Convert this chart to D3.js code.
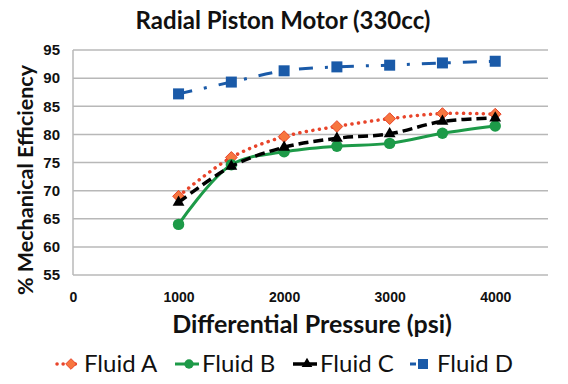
<!DOCTYPE html>
<html>
<head>
<meta charset="utf-8">
<script src="https://cdn.jsdelivr.net/npm/d3@7"></script>
<style>
  body { margin: 0; background: #fff; }
  svg { display: block; font-family: Lato, "Open Sans", sans-serif; }
</style>
</head>
<body>
<svg width="568" height="384"></svg>
<script>
var pressure = [1000, 1500, 2000, 2500, 3000, 3500, 4000];
var fluidA = [69.0, 75.9, 79.6, 81.4, 82.8, 83.7, 83.6];
var fluidB = [64.0, 74.6, 76.9, 77.9, 78.4, 80.2, 81.5];
var fluidC = [67.9, 74.3, 77.7, 79.3, 80.1, 82.3, 82.9];
var fluidD = [87.2, 89.3, 91.3, 92.0, 92.3, 92.7, 93.0];
var xTicks = [0, 1000, 2000, 3000, 4000];
var yTicks = [55, 60, 65, 70, 75, 80, 85, 90, 95];

var svg = d3.select("svg"),
    margin = {top: 50, right: 20, bottom: 109, left: 73},
    width = +svg.attr("width") - margin.left - margin.right,
    height = +svg.attr("height") - margin.top - margin.bottom;

var x = d3.scaleLinear().domain([0, 4500]).range([0, width]);
var y = d3.scaleLinear().domain([55, 95]).range([height, 0]);

var series = [
  {name: "Fluid A", values: fluidA, color: "#e8442a", fill: "#f7763f", dash: "0.1,6.5", cap: "round", width: 3.5, marker: "diamond"},
  {name: "Fluid B", values: fluidB, color: "#1d9a48", fill: "#1d9a48", dash: null, cap: "butt", width: 3, marker: "circle"},
  {name: "Fluid C", values: fluidC, color: "#000", fill: "#000", dash: "10,5", cap: "butt", width: 3.5, marker: "triangle"},
  {name: "Fluid D", values: fluidD, color: "#1a5aa8", fill: "#1a5aa8", dash: "14,12,3,12", cap: "butt", width: 3, marker: "square"}
];

var focus = svg.append("g")
    .attr("transform", "translate(" + margin.left + "," + margin.top + ")");

// gridlines
focus.append("g")
    .selectAll("line")
    .data(yTicks)
    .enter().append("line")
    .attr("x1", 0).attr("x2", width)
    .attr("y1", function(d) { return y(d); })
    .attr("y2", function(d) { return y(d); })
    .style("stroke", "#b8b8b8")
    .style("stroke-width", 1.5);

focus.append("line")
    .attr("x1", 0).attr("x2", 0).attr("y1", 0).attr("y2", height)
    .style("stroke", "#b8b8b8").style("stroke-width", 1.5);

// axes
var xAxis = focus.append("g")
    .attr("transform", "translate(0," + height + ")")
    .call(d3.axisBottom(x).tickValues(xTicks).tickFormat(d3.format("d")).tickSize(0).tickPadding(17));
xAxis.select(".domain").remove();
xAxis.selectAll("text")
    .style("font-size", "14px").style("font-weight", "bold").style("fill", "#111");

var yAxis = focus.append("g")
    .call(d3.axisLeft(y).tickValues(yTicks).tickSize(0).tickPadding(13));
yAxis.select(".domain").remove();
yAxis.selectAll("text")
    .style("font-size", "15px").style("font-weight", "bold").style("fill", "#111");

var line = d3.line()
    .x(function(d, i) { return x(pressure[i]); })
    .y(function(d) { return y(d); })
    .curve(d3.curveCatmullRom.alpha(0.5));

function drawMarker(g, type, fill, stroke, s) {
  if (type === "diamond") {
    g.append("path").attr("d", d3.symbol(d3.symbolDiamond2, s * 8)())
      .style("fill", fill).style("stroke", stroke).style("stroke-width", 1);
  } else if (type === "circle") {
    g.append("circle").attr("r", s * 0.52).style("fill", fill);
  } else if (type === "triangle") {
    g.append("path").attr("d", d3.symbol(d3.symbolTriangle, s * 5.5)()).style("fill", fill);
  } else {
    g.append("rect").attr("x", -s / 2).attr("y", -s / 2)
      .attr("width", s).attr("height", s).style("fill", fill);
  }
}

series.forEach(function(s) {
  focus.append("path")
    .datum(s.values)
    .attr("d", line)
    .style("fill", "none")
    .style("stroke", s.color)
    .style("stroke-width", s.width)
    .style("stroke-linecap", s.cap)
    .style("stroke-dasharray", s.dash);
  s.values.forEach(function(v, i) {
    var g = focus.append("g")
      .attr("transform", "translate(" + x(pressure[i]) + "," + y(v) + ")");
    drawMarker(g, s.marker, s.fill, s.color, 11);
  });
});

// titles
svg.append("text")
    .attr("x", 283).attr("y", 29)
    .attr("text-anchor", "middle")
    .style("font-size", "24px").style("font-weight", "bold").style("fill", "#111")
    .text("Radial Piston Motor (330cc)");

svg.append("text")
    .attr("x", 312).attr("y", 333)
    .attr("text-anchor", "middle")
    .style("font-size", "25px").style("font-weight", "bold").style("fill", "#111")
    .text("Differential Pressure (psi)");

svg.append("text")
    .attr("transform", "translate(33,180) rotate(-90)")
    .attr("text-anchor", "middle")
    .style("font-size", "21.5px").style("font-weight", "bold").style("fill", "#111")
    .text("% Mechanical Efficiency");

// legend
var legendX = [57, 175, 293, 410];
var legendDash = ["0.1,6", null, null, "6,20"];
var legend = svg.append("g");
series.forEach(function(s, i) {
  var g = legend.append("g").attr("transform", "translate(" + legendX[i] + ",364)");
  g.append("line").attr("x1", 0).attr("x2", 24)
    .style("stroke", s.color).style("stroke-width", s.width)
    .style("stroke-linecap", s.cap)
    .style("stroke-dasharray", legendDash[i]);
  var m = g.append("g").attr("transform", "translate(" + (i === 3 ? 13 : 14) + ",0)");
  drawMarker(m, s.marker, s.fill, s.color, i === 3 ? 10 : 9);
  g.append("text")
    .attr("x", 27).attr("y", 8)
    .style("font-size", "24px").style("fill", "#111")
    .text(s.name);
});
</script>
</body>
</html>
